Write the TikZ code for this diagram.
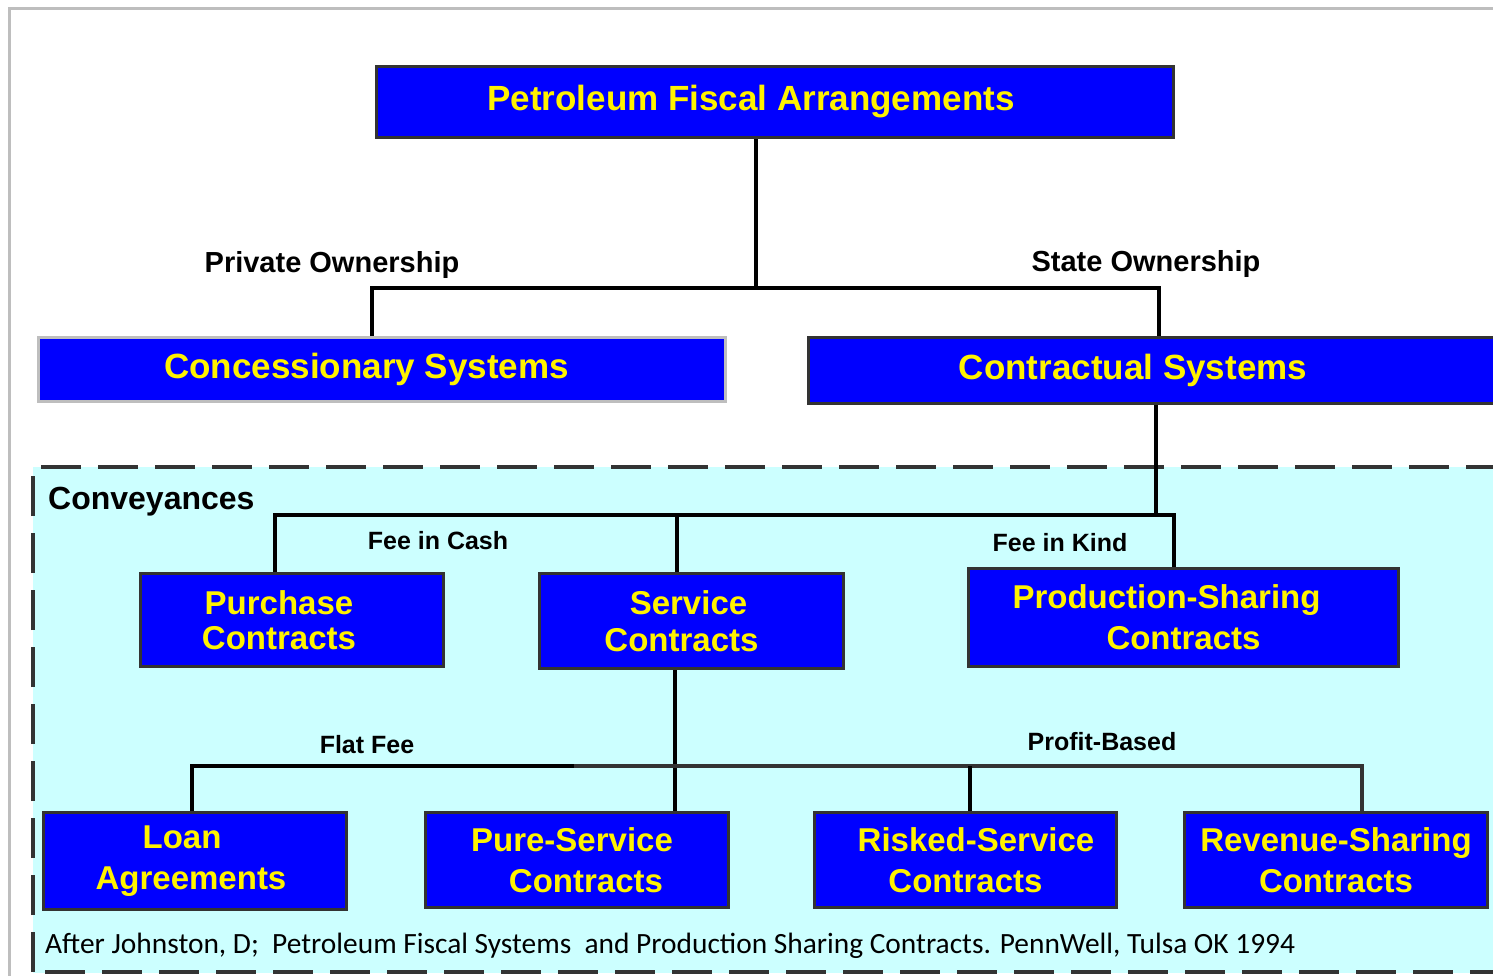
\documentclass[tikz,border=0pt]{standalone}
\usepackage{fontspec}
\setmainfont{Liberation Sans}
\newfontfamily\notefont{Carlito}
\usepackage{tikz}
\usetikzlibrary{calc}
\definecolor{boxblue}{RGB}{0,0,255}
\definecolor{boxline}{RGB}{51,51,51}
\definecolor{panel}{RGB}{204,255,255}
\definecolor{framegray}{RGB}{190,190,190}

\begin{document}
\begin{tikzpicture}[x=1pt,y=-1pt]
\tikzstyle{box}=[rectangle, draw=boxline, line width=3pt, fill=boxblue, text=yellow, inner sep=0pt, align=center, font=\bfseries\fontsize{33}{41}\selectfont]
\tikzstyle{wide}=[box, font=\bfseries\fontsize{35}{40}\selectfont]
\tikzstyle{tag}=[text=black, inner sep=0pt, font=\bfseries\fontsize{25}{30}\selectfont]
\tikzstyle{link}=[draw=black, line width=4pt]
\useasboundingbox (0,0) rectangle (1493,975);
\draw[framegray, line width=3pt] (9,990) -- (9,8) -- (1510,8);
% conveyances panel
\draw[panel, fill=panel] (33,467) rectangle (1520,972);
\draw[boxline, line width=4pt, dash pattern=on 40pt off 17pt] (33,972) -- (33,467) -- (1520,467);
\draw[boxline, line width=4pt, dash pattern=on 40pt off 17pt] (45,972) -- (1520,972);
\node[box, wide, minimum width=797, minimum height=71] (pfa) at (775,102) {Petroleum Fiscal Arrangements\hspace*{48pt}};
\node[box, wide, draw=framegray, minimum width=687, minimum height=64] (cons) at (382,369.5) {Concessionary Systems\hspace*{31pt}};
\node[box, wide, minimum width=700, minimum height=66] (contr) at (1158.5,370.5) {Contractual Systems\hspace*{51pt}};
\node[box, font=\bfseries\fontsize{33}{35}\selectfont, minimum width=303, minimum height=93] (purch) at (292,620) {Purchase\hspace*{26pt}\\Contracts\hspace*{26pt}};
\node[box, font=\bfseries\fontsize{33}{37}\selectfont, minimum width=304, minimum height=95] (serv) at (691.5,621) {Service\hspace*{6pt}\\Contracts\hspace*{20pt}};
\node[box, minimum width=430, minimum height=98] (psc) at (1183.5,617.5) {Production-Sharing\hspace*{34pt}\\Contracts};
\node[box, minimum width=303, minimum height=97] (loan) at (195,861) {Loan\hspace*{26pt}\\Agreements\hspace*{8pt}};
\node[box, minimum width=303, minimum height=95] (pure) at (577,860) {Pure-Service\hspace*{10pt}\\\hspace*{18pt}Contracts};
\node[box, minimum width=302, minimum height=95] (risk) at (965.5,860) {\hspace*{21pt}Risked-Service\\Contracts};
\node[box, minimum width=303, minimum height=95] (rev) at (1336,860) {Revenue-Sharing\\Contracts};
% branch labels
\node[tag, font=\bfseries\fontsize{29}{34}\selectfont] (priv) at (332,265) {Private Ownership};
\node[tag, font=\bfseries\fontsize{29}{34}\selectfont] (state) at (1146,264) {State Ownership};
\node[tag, anchor=west, font=\bfseries\fontsize{32}{36}\selectfont] (conv) at (48,502) {Conveyances};
\node[tag] (cash) at (438,541) {Fee in Cash};
\node[tag] (kind) at (1060,543) {Fee in Kind};
\node[tag] (flatfee) at (367,745) {Flat Fee};
\node[tag] (profit) at (1102,742) {Profit-Based};
\node[tag, anchor=west, font=\notefont\fontsize{29.4}{34}\selectfont] (src) at (45,946) {After Johnston, D;\ \ Petroleum Fiscal Systems\ \ and Production Sharing Contracts. PennWell, Tulsa OK 1994};
% connectors
\coordinate (own) at (756,288);
\coordinate (ownL) at (372,288);
\coordinate (ownR) at (1159,288);
\coordinate (fee) at (1156,515);
\coordinate (feeL) at (275,515);
\coordinate (feeM) at (677,515);
\coordinate (feeR) at (1174,515);
\coordinate (svc) at (675,766);
\coordinate (flat) at (192,766);
\coordinate (split) at (574,766);
\coordinate (riskj) at (970,766);
\coordinate (prof) at (1362,766);
\draw[link] (pfa.south -| own) -- (own);
\draw[link] (cons.north -| ownL) -- (ownL) -- (ownR) -- (contr.north -| ownR);
\draw[link] (contr.south -| fee) -- (fee);
\draw[link] (purch.north -| feeL) -- (feeL) -- (feeR) -- (psc.north -| feeR);
\draw[link] (feeM) -- (serv.north -| feeM);
\draw[link] (serv.south -| svc) -- (pure.north -| svc);
\draw[link] (loan.north -| flat) -- (flat) -- (split);
\draw[link, draw=boxline, line width=3.5pt] (split) -- (prof) -- (rev.north -| prof);
\draw[link] (riskj) -- (risk.north -| riskj);
\end{tikzpicture}
\end{document}
